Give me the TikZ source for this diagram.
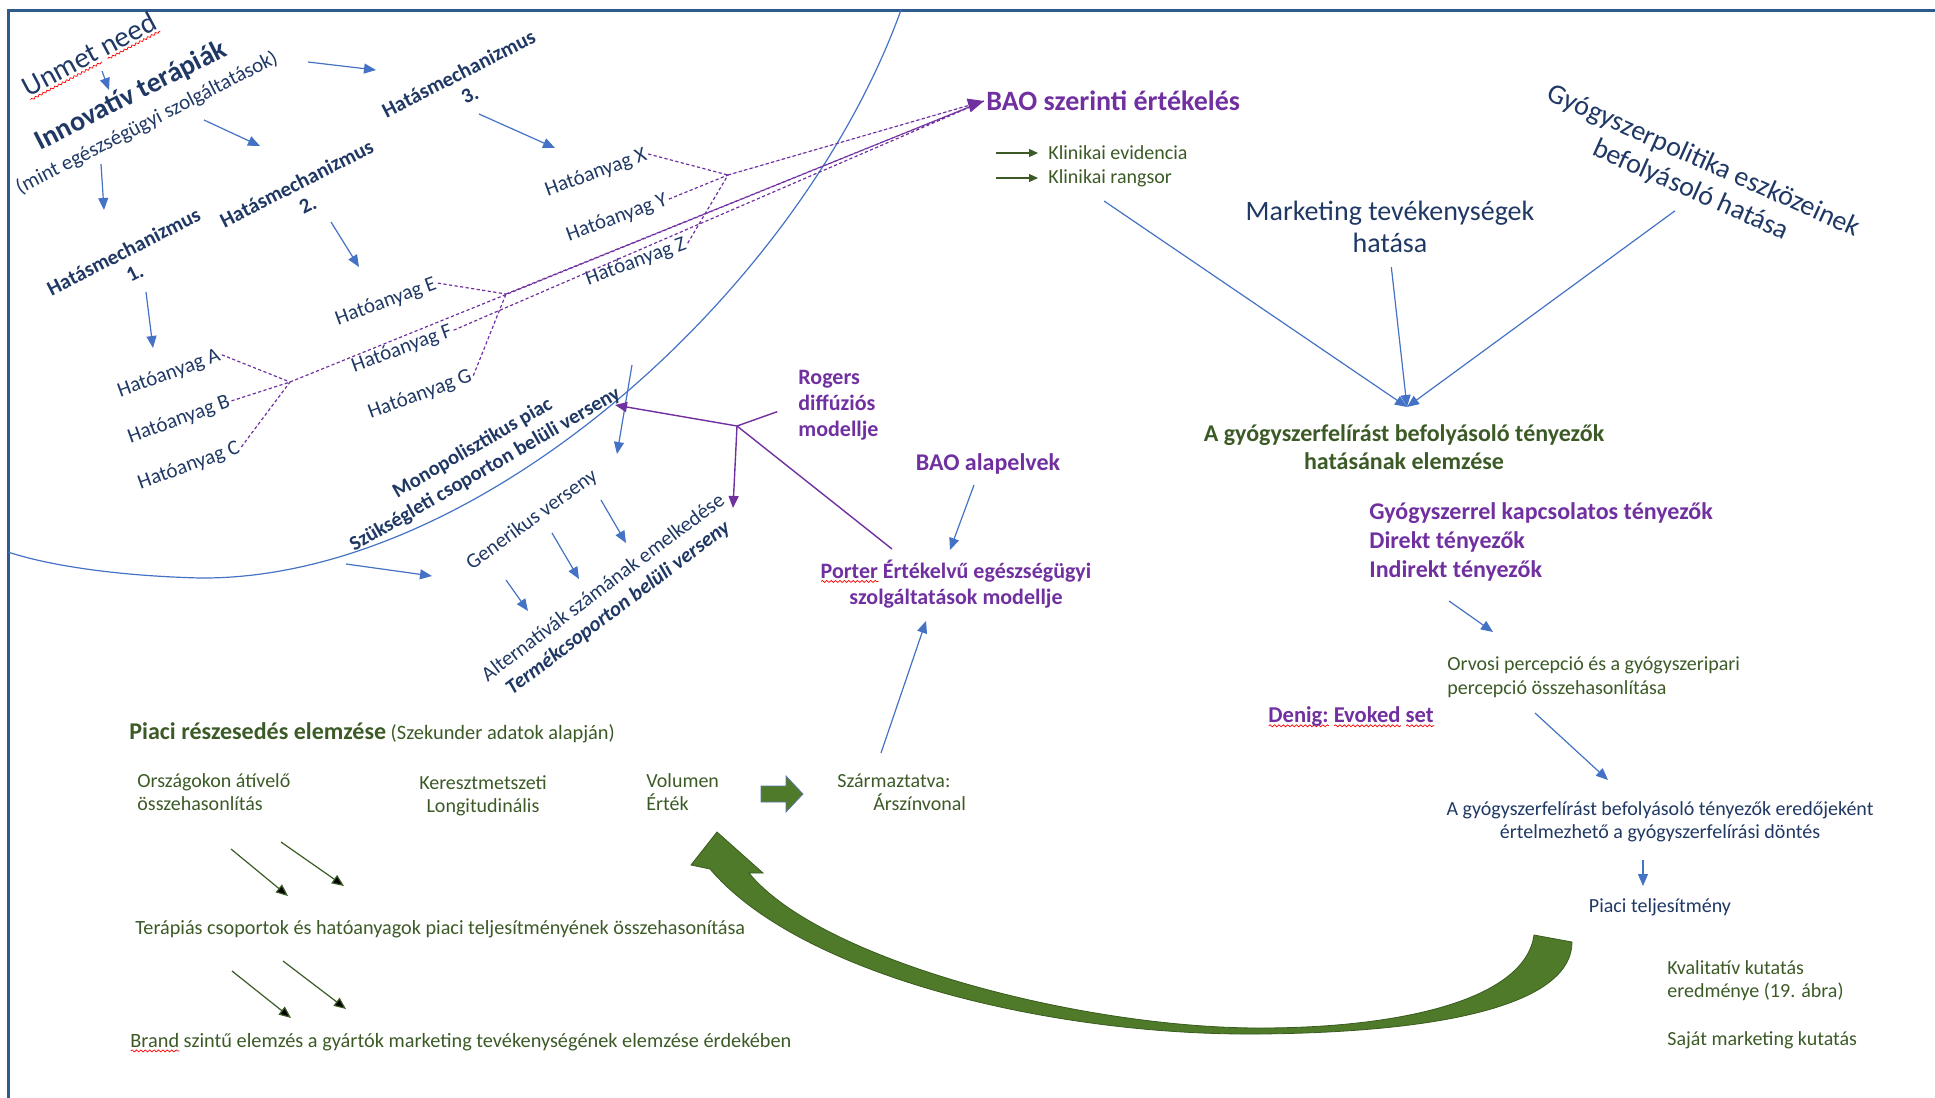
\documentclass[tikz,border=0pt]{standalone}
\usepackage{fontspec}
\setmainfont{Carlito}
\usetikzlibrary{arrows.meta,decorations.pathmorphing}

\definecolor{navy}{HTML}{1F3864}
\definecolor{lineblue}{HTML}{4472C4}
\definecolor{lila}{HTML}{7030A0}
\definecolor{zold}{HTML}{3B5A26}
\definecolor{arrowgreen}{HTML}{4E7A2A}
\definecolor{frameblue}{HTML}{2F5A8C}

% red spell-check wave under a word
\newsavebox\wavebox
\newcommand\redwave[1]{\sbox\wavebox{#1}\makebox[0pt][l]{\raisebox{-2.2pt}{\tikz\draw[red,line width=0.35pt,decorate,decoration={snake,amplitude=0.5pt,segment length=2.2pt}] (0pt,0pt) -- (\the\wd\wavebox,0pt);}}\usebox\wavebox}

\tikzset{
  bl/.style={->,draw=lineblue,line width=0.6pt},
  gr/.style={->,draw=zold,line width=0.6pt},
  pl/.style={draw=lila,line width=0.7pt},
  pdash/.style={draw=lila,dash pattern=on 1.6pt off 1.2pt,line width=0.6pt},
  navytxt/.style={text=navy,inner sep=1pt},
  greentxt/.style={text=zold,inner sep=1pt,font=\fontsize{10}{11.5}\selectfont},
  lilatxt/.style={text=lila,inner sep=1pt,font=\fontsize{12}{14.5}\selectfont\bfseries},
  drug/.style={navytxt,rotate=20,font=\fontsize{10.5}{12}\selectfont},
  mech/.style={navytxt,rotate=27,align=center,font=\fontsize{10.5}{12}\selectfont\bfseries},
}

\begin{document}
\begin{tikzpicture}[x=0.5pt,y=-0.5pt,>={Triangle[length=6pt,width=5pt]}]
\useasboundingbox (0,0) rectangle (1935,1098);
\draw[frameblue,line width=1.5pt] (8,1098) -- (8,10) -- (1935,10);

% market circle
\draw[lineblue,line width=0.6pt] (901,10) .. controls (800,290) and (480,580) .. (200,578)
  .. controls (120,576) and (50,566) .. (8,552);

% innovation chain
\node[navytxt,rotate=28,font=\fontsize{14.5}{17}\selectfont] (unmet) at (90,56) {\redwave{Unmet} \redwave{need}};
\node[navytxt,rotate=27,font=\fontsize{14}{17}\selectfont\bfseries] (innov) at (131,96) {Innovatív terápiák};
\node[navytxt,rotate=27,font=\fontsize{10.5}{12}\selectfont] (mint) at (147,123) {(mint egészségügyi szolgáltatások)};

\node[mech] (hm1) at (129,262) {Hatásmechanizmus\\1.};
\node[mech] (hm2) at (302,194) {Hatásmechanizmus\\2.};
\node[mech] (hm3) at (464,84) {Hatásmechanizmus\\3.};

\node[drug] (hA) at (169,374) {Hatóanyag A};
\node[drug] (hB) at (179,420) {Hatóanyag B};
\node[drug] (hC) at (189,466) {Hatóanyag C};
\node[drug] (hE) at (386,302) {Hatóanyag E};
\node[drug] (hF) at (402,349) {Hatóanyag F};
\node[drug] (hG) at (420,395) {Hatóanyag G};
\node[drug] (hX) at (596,173) {Hatóanyag X};
\node[drug] (hY) at (617,218) {Hatóanyag Y};
\node[drug] (hZ) at (636,262) {Hatóanyag Z};

\coordinate (u1) at (102,71);  \coordinate (u2) at (109,90);
\coordinate (i1) at (101,164); \coordinate (i2) at (104,210);
\coordinate (i3) at (204,120); \coordinate (i4) at (260,146);
\coordinate (i5) at (308,62);  \coordinate (i6) at (376,70);
\coordinate (m1) at (146,292); \coordinate (m2) at (153,348);
\coordinate (m3) at (331,222); \coordinate (m4) at (359,267);
\coordinate (m5) at (479,114); \coordinate (m6) at (555,148);
\draw[bl] (u1) -- (u2);
\draw[bl] (i1) -- (i2);
\draw[bl] (i3) -- (i4);
\draw[bl] (i5) -- (i6);
\draw[bl] (m1) -- (m2);
\draw[bl] (m3) -- (m4);
\draw[bl] (m5) -- (m6);

% BAO evaluation
\node[anchor=west,text=lila,inner sep=1pt,font=\fontsize{14}{17}\selectfont\bfseries] (bao) at (984,101) {BAO szerinti értékelés};
\coordinate (hub1) at (290,382);
\coordinate (hub2) at (506,294);
\coordinate (hub3) at (728,175);
\draw[pdash] (hA.east) -- (hub1) (hB.east) -- (hub1) (hC.east) -- (hub1);
\draw[pdash] (hE.east) -- (hub2) (hG.east) -- (hub2);
\draw[pdash] (hX.east) -- (hub3) (hY.east) -- (hub3) (hZ.east) -- (hub3);
\draw[pdash] (hub1) -- (bao.west) (hub2) -- (bao.west) (hF.east) -- (bao.west);
\draw[pdash,-{Triangle[length=8pt,width=7pt]},fill=lila] (hub3) -- (bao.west);

\node[greentxt,anchor=west] (klin1) at (1046,153) {Klinikai evidencia};
\node[greentxt,anchor=west] (klin2) at (1046,178) {Klinikai rangsor};
\draw[gr,<-,>={Triangle[length=4.5pt,width=4pt]},shorten <=4pt] (klin1.west) -- ++(-50,0);
\draw[gr,<-,>={Triangle[length=4.5pt,width=4pt]},shorten <=4pt] (klin2.west) -- ++(-50,0);

% prescribing factors
\node[navytxt,align=center,font=\fontsize{14}{16}\selectfont] (mkt) at (1390,227) {Marketing tevékenységek\\hatása};
\node[navytxt,rotate=-24,align=center,font=\fontsize{14}{16}\selectfont] (pol) at (1697,176) {Gyógyszerpolitika eszközeinek\\befolyásoló hatása};
\node[text=zold,inner sep=1pt,align=center,font=\fontsize{12}{14}\selectfont\bfseries] (ana) at (1404,447) {A gyógyszerfelírást befolyásoló tényezők\\hatásának elemzése};
\coordinate (conv) at (1407,407);
\draw[bl] (klin2.south) ++(-6,12) -- (conv);
\draw[bl,shorten <=6pt] (mkt.south) -- (conv);
\draw[bl,shorten <=6pt] (pol.south) -- (conv);

\node[lilatxt,anchor=west,align=left] (fact) at (1367,542) {Gyógyszerrel kapcsolatos tényezők\\Direkt tényezők\\Indirekt tényezők};
\node[greentxt,anchor=west,align=left,font=\fontsize{10}{12}\selectfont] (orv) at (1445,677) {Orvosi percepció és a gyógyszeripari\\percepció összehasonlítása};
\node[lilatxt,anchor=west,font=\fontsize{11.3}{13}\selectfont\bfseries] (denig) at (1266,717) {\redwave{Denig:} \redwave{Evoked} \redwave{set}};
\node[navytxt,align=center,font=\fontsize{10}{11.5}\selectfont] (dont) at (1660,822) {A gyógyszerfelírást befolyásoló tényezők eredőjeként\\értelmezhető a gyógyszerfelírási döntés};
\node[navytxt,font=\fontsize{10}{11.5}\selectfont] (telj) at (1660,907) {Piaci teljesítmény};
\node[greentxt,anchor=west,align=left] (kval) at (1665,981) {Kvalitatív kutatás\\eredménye (19. ábra)};
\node[greentxt,anchor=west] (sajat) at (1665,1040) {Saját marketing kutatás};

\coordinate (f1) at (1449,601); \coordinate (f2) at (1493,632);
\coordinate (o1) at (1535,713); \coordinate (o2) at (1608,780);
\coordinate (d1) at (1643,860); \coordinate (d2) at (1643,886);
\draw[bl] (f1) -- (f2);
\draw[bl] (o1) -- (o2);
\draw[bl] (d1) -- (d2);

% competition on the market
\node[navytxt,rotate=30,align=center,font=\fontsize{10.3}{12.5}\selectfont\bfseries] (mono) at (479,459) {Monopolisztikus piac\\Szükségleti csoporton belüli verseny};
\node[navytxt,rotate=36,font=\fontsize{10.5}{12}\selectfont] (gen) at (532,520) {Generikus verseny};
\node[navytxt,rotate=37,align=center,font=\fontsize{10.5}{12.5}\selectfont] (alt) at (611,598) {Alternatívák számának emelkedése\\\textbf{\textit{Termékcsoporton belüli verseny}}};

\coordinate (c1) at (632,365); \coordinate (c2) at (617,454);
\coordinate (c3) at (346,564); \coordinate (c4) at (432,576);
\coordinate (c5) at (506,580); \coordinate (c6) at (528,611);
\coordinate (c7) at (552,533); \coordinate (c8) at (579,579);
\coordinate (c9) at (601,500); \coordinate (c10) at (626,543);
\draw[bl] (c1) -- (c2);
\draw[bl] (c3) -- (c4);
\draw[bl] (c5) -- (c6);
\draw[bl] (c7) -- (c8);
\draw[bl] (c9) -- (c10);

% diffusion and value based models
\node[lilatxt,anchor=west,align=left,font=\fontsize{11}{13}\selectfont\bfseries] (rog) at (796,405) {Rogers\\diffúziós\\modellje};
\node[lilatxt,font=\fontsize{12}{14}\selectfont\bfseries] (bal) at (988,464) {BAO alapelvek};
\node[lilatxt,align=center,font=\fontsize{11}{13}\selectfont\bfseries] (porter) at (956,584) {\redwave{Porter} Értékelvű egészségügyi\\szolgáltatások modellje};
\coordinate (rhub) at (737,426);
\coordinate (monotip) at (615,405);
\coordinate (alttip) at (733,508);
\coordinate (portin) at (892,549);
\draw[pl,->,fill=lila] (rhub) -- (monotip);
\draw[pl,->,fill=lila] (rhub) -- (alttip);
\draw[pl,shorten >=10pt] (rhub) -- (rog.west);
\draw[pl] (rhub) -- (portin);
\coordinate (b1) at (974,485); \coordinate (b2) at (950,550);
\draw[bl] (b1) -- (b2);

% market share analysis
\node[greentxt,anchor=west] (share) at (127,733) {{\fontsize{12}{14}\selectfont\bfseries Piaci részesedés elemzése} {\fontsize{10.2}{12}\selectfont(Szekunder adatok alapján)}};
\node[greentxt,anchor=west,align=left] (orsz) at (135,792) {Országokon átívelő\\összehasonlítás};
\node[greentxt,align=center] (ker) at (483,796) {Keresztmetszeti\\Longitudinális};
\node[greentxt,anchor=west,align=left] (vol) at (644,792) {Volumen\\Érték};
\node[greentxt,anchor=west,align=left] (szarm) at (835,792) {Származtatva:\\\hspace*{18pt}Árszínvonal};
\node[greentxt,anchor=west,font=\fontsize{10.1}{12}\selectfont] (ter) at (133,929) {Terápiás csoportok és hatóanyagok piaci teljesítményének összehasonítása};
\node[greentxt,anchor=west,font=\fontsize{10.15}{12}\selectfont] (brand) at (128,1043) {\redwave{Brand} szintű elemzés a gyártók marketing tevékenységének elemzése érdekében};

\fill[arrowgreen,draw=lineblue!60!gray,line width=0.4pt] (761,786) -- (786,786) -- (786,776) -- (803,794)
  -- (786,812) -- (786,802) -- (761,802) -- cycle;
\coordinate (s1) at (881,753); \coordinate (s2) at (926,621);
\draw[bl] (s1) -- (s2);

\coordinate (g1) at (231,849); \coordinate (g2) at (288,896);
\coordinate (g3) at (281,842); \coordinate (g4) at (344,886);
\coordinate (g5) at (232,971); \coordinate (g6) at (291,1018);
\coordinate (g7) at (283,961); \coordinate (g8) at (346,1009);
\draw[gr] (g1) -- (g2);
\draw[gr] (g3) -- (g4);
\draw[gr] (g5) -- (g6);
\draw[gr] (g7) -- (g8);

% feedback arrow
\fill[arrowgreen,draw=arrowgreen!75!black,line width=0.4pt] (710,869)
  .. controls (800,975) and (1050,1036) .. (1260,1034)
  .. controls (1460,1032) and (1572,1000) .. (1572,942)
  -- (1534,935)
  .. controls (1525,1000) and (1400,1028) .. (1260,1028)
  .. controls (1080,1028) and (820,960) .. (749,873)
  -- (763,873) -- (717,832) -- (691,865) -- cycle;
\end{tikzpicture}
\end{document}
